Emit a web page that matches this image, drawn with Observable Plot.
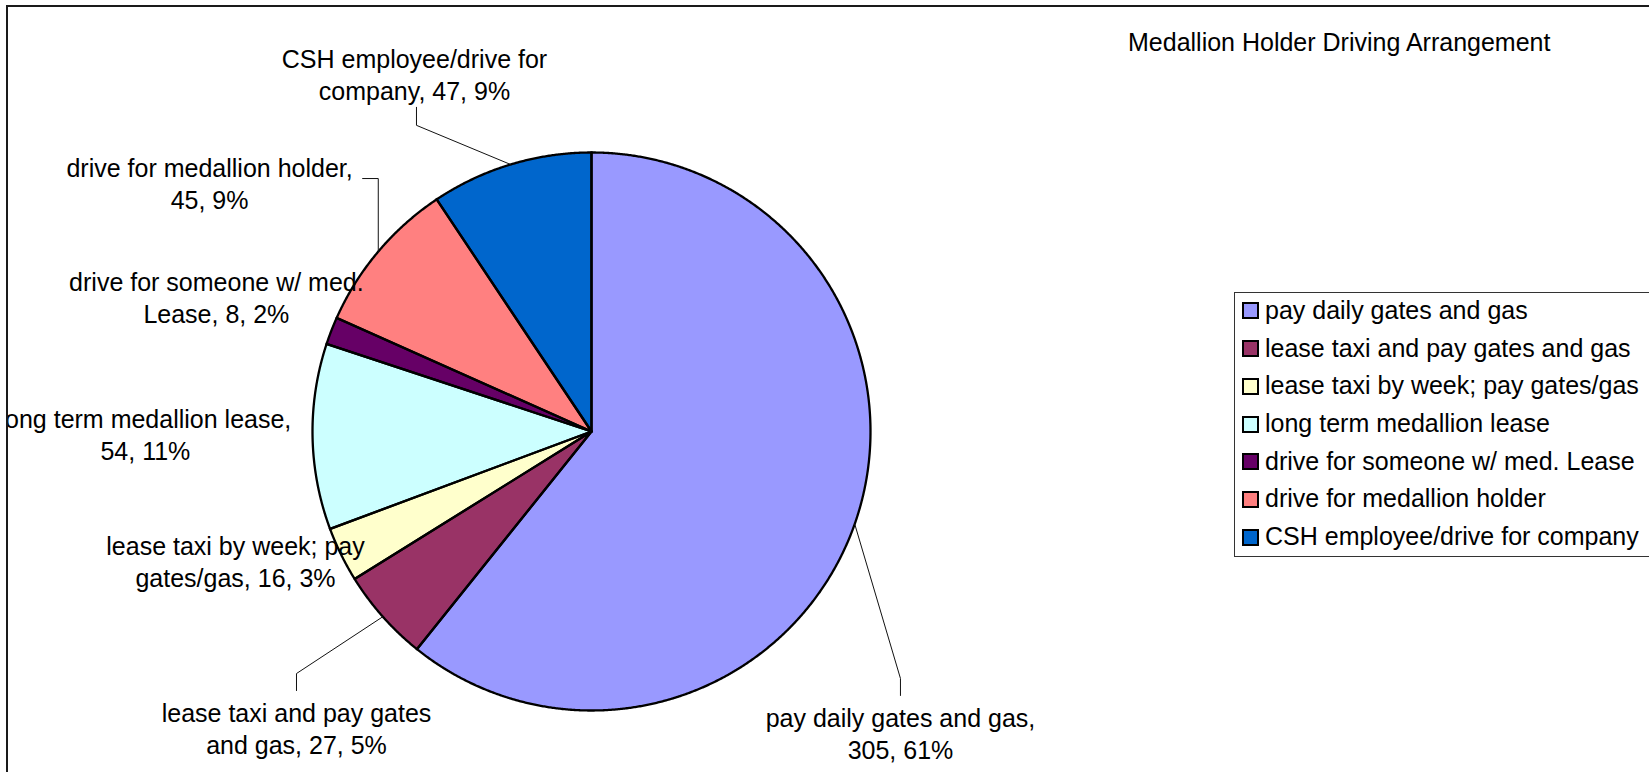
<!DOCTYPE html>
<html>
<head>
<meta charset="utf-8">
<script src="https://cdn.jsdelivr.net/npm/d3@7"></script>
<script src="https://cdn.jsdelivr.net/npm/@observablehq/plot@0.6"></script>
<style>
  html, body { margin: 0; padding: 0; background: #fff; }
  body { width: 1649px; height: 772px; overflow: hidden; font-family: "Liberation Sans", Arial, sans-serif; }
  #wrap { position: relative; width: 1649px; height: 772px; overflow: hidden; background: #fff; }
  #frame { position: absolute; left: 6px; top: 5px; width: 1700px; height: 800px; border: 2px solid #1a1a1a; box-sizing: border-box; }
  #clip { position: absolute; left: 8px; top: 7px; width: 1641px; height: 765px; overflow: hidden; }
  #clip svg { position: absolute; left: -8px; top: -7px; }
  #title { position: absolute; left: 1128px; top: 30px; font-size: 25px; line-height: 25px; color: #000; white-space: nowrap; }
  #legend { position: absolute; left: 1234px; top: 292px; width: 500px; height: 265px; border: 1.3px solid #333; box-sizing: border-box; background: #fff; }
  .lg-row { position: absolute; left: 1242px; font-size: 25px; line-height: 25px; white-space: nowrap; color: #000; }
  .lg-sw { position: absolute; left: 0; width: 17px; height: 17px; border: 2px solid #000; box-sizing: border-box; }
  .lg-tx { position: absolute; left: 23px; top: 0; }
</style>
</head>
<body>
<div id="wrap">
  <div id="frame"></div>
  <div id="clip"></div>
  <div id="title"></div>
  <div id="legend"></div>
</div>
<script>
// ---- data ----
const title = "Medallion Holder Driving Arrangement";
const categories = [
  "pay daily gates and gas",
  "lease taxi and pay gates and gas",
  "lease taxi by week; pay gates/gas",
  "long term medallion lease",
  "drive for someone w/ med. Lease",
  "drive for medallion holder",
  "CSH employee/drive for company"
];
const counts = [305, 27, 16, 54, 8, 45, 47];
const colors = ["#9999FF", "#993366", "#FFFFCC", "#CCFFFF", "#660066", "#FF8080", "#0066CC"];

// ---- layout (label placement in polar form: degrees clockwise from 12 o'clock, radius in pie radii) ----
const labelAngle  = [134.25, 224.9, 250.1, 269.7, 289.8, 303.1, 333.7];
const labelRadius = [1.546, 1.498, 1.357, 1.599, 1.429, 1.634, 1.432];
const labelLeader = ["below", "below", null, null, null, "side", "above"];

const W = 1649, H = 772;
const CX = 591, CY = 431, RPX = 279; // pie centre and radius in pixels
const px = v => v / RPX;              // pixel length -> pie units
const FONT = '"Liberation Sans", Arial, sans-serif';
const FS = 25, WRAP_PX = 310;

// word wrap with real font metrics
const ctx = document.createElement("canvas").getContext("2d");
ctx.font = `${FS}px "Liberation Sans", Arial, sans-serif`;
function wrapText(str) {
  const words = str.split(" ");
  const lines = [];
  let cur = "";
  for (const w of words) {
    const cand = cur ? cur + " " + w : w;
    if (cur && ctx.measureText(cand).width > WRAP_PX) { lines.push(cur); cur = w; }
    else cur = cand;
  }
  if (cur) lines.push(cur);
  return lines.join("\n");
}

const total = d3.sum(counts);
let cum = 0;
const slices = categories.map((name, i) => {
  const a0 = cum / total * 360;
  cum += counts[i];
  const a1 = cum / total * 360;
  return {name, value: counts[i], pct: counts[i] / total * 100, a0, a1, mid: (a0 + a1) / 2};
});
const polar = (deg, r) => ({x: r * Math.sin(deg * Math.PI / 180), y: r * Math.cos(deg * Math.PI / 180)});

const poly = [];
for (const s of slices) {
  poly.push({name: s.name, x: 0, y: 0});
  const n = Math.max(2, Math.ceil((s.a1 - s.a0) / 0.25));
  for (let k = 0; k <= n; k++) {
    const p = polar(s.a0 + (s.a1 - s.a0) * k / n, 1);
    poly.push({name: s.name, x: p.x, y: p.y});
  }
  poly.push({name: s.name, x: 0, y: 0});
}

const labels = slices.map((s, i) => {
  const p = polar(labelAngle[i], labelRadius[i]);
  return {name: s.name, x: p.x, y: p.y, text: wrapText(`${s.name}, ${s.value}, ${Math.round(s.pct)}%`)};
});

const leaders = [];
slices.forEach((s, i) => {
  const t = labelLeader[i];
  if (!t) return;
  const e = polar(s.mid, 1);
  const L = labels[i];
  let pts;
  if (t === "below") pts = [{x: L.x, y: L.y + px(37)}, {x: L.x, y: L.y + px(54)}, e];
  else if (t === "above") pts = [{x: L.x + px(2), y: L.y - px(34)}, {x: L.x + px(2), y: L.y - px(52)}, e];
  else pts = [{x: L.x + px(153), y: L.y + px(4)}, {x: e.x, y: L.y + px(4)}, e];
  pts.forEach(p => leaders.push({name: s.name, x: p.x, y: p.y}));
});

const chart = Plot.plot({
  width: W, height: H,
  margin: 0,
  x: {domain: [px(-CX), px(W - CX)], axis: null},
  y: {domain: [px(-(H - CY)), px(CY)], axis: null},
  color: {domain: categories, range: colors},
  style: {maxWidth: "none", background: "transparent", overflow: "visible"},
  marks: [
    Plot.line(poly, {x: "x", y: "y", z: "name", fill: "name", stroke: "none", curve: "linear"}),
    Plot.line(poly, {x: "x", y: "y", z: "name", fill: "none", stroke: "#000", strokeWidth: 2.3, curve: "linear", strokeLinejoin: "miter", strokeMiterlimit: 4}),
    Plot.line(leaders, {x: "x", y: "y", z: "name", stroke: "#111", strokeWidth: 1, curve: "linear", strokeLinejoin: "miter"}),
    Plot.text(labels, {x: "x", y: "y", text: "text", fontSize: FS, fontFamily: FONT, lineHeight: 1.28, textAnchor: "middle", fill: "#000"})
  ]
});
document.getElementById("clip").appendChild(chart);

document.getElementById("title").textContent = title;
const wrap = document.getElementById("wrap");
categories.forEach((c, i) => {
  const baseline = 319 + 37.7 * i;
  const row = document.createElement("div");
  row.className = "lg-row";
  row.style.top = (baseline - 21.2) + "px";
  const sw = document.createElement("div");
  sw.className = "lg-sw";
  sw.style.background = colors[i];
  sw.style.top = (21.2 - 16.5) + "px";
  const tx = document.createElement("div");
  tx.className = "lg-tx";
  tx.textContent = c;
  row.appendChild(sw); row.appendChild(tx);
  wrap.appendChild(row);
});
</script>
</body>
</html>
